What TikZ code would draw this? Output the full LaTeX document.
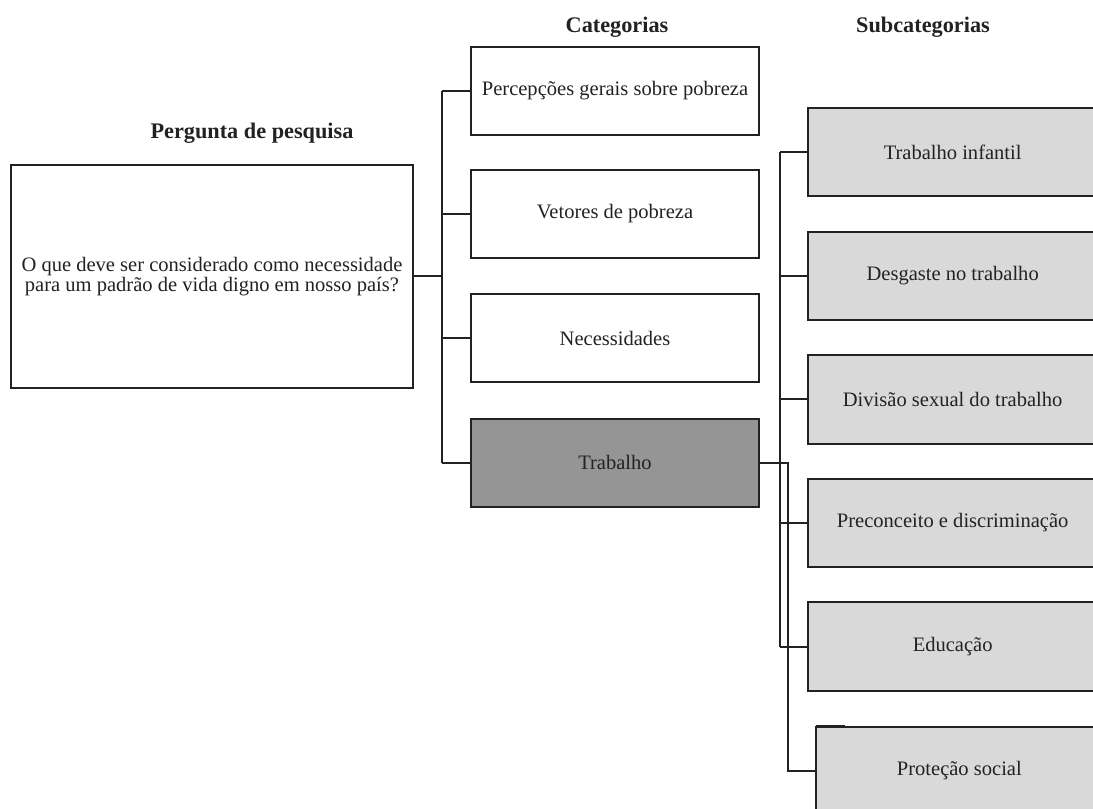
\documentclass[tikz,border=0pt]{standalone}
\usepackage{fontspec}
\setmainfont{Liberation Serif}
\definecolor{darkbox}{HTML}{959595}
\definecolor{lightbox}{HTML}{D9D9D9}
\definecolor{ink}{HTML}{222222}
\begin{document}
\begin{tikzpicture}[x=0.75pt,y=-0.75pt,
  line width=1.5pt,
  every node/.style={inner sep=0pt,outer sep=0pt},
  basebox/.style={draw=ink,text=ink,align=center,font=\fontsize{15.4}{15.5}\selectfont},
  catbox/.style={basebox,fill=white,minimum width=216pt,minimum height=66pt},
  trabbox/.style={catbox,fill=darkbox},
  subbox/.style={basebox,fill=lightbox,minimum width=240pt,minimum height=66.5pt},
  heading/.style={text=ink,font=\bfseries\fontsize{16.7}{17}\selectfont},
  link/.style={draw=ink,line width=1.5pt}]
\path[use as bounding box] (0,0) rectangle (1093,809);
\clip (0,0) rectangle (1093,809);
\fill[white] (0,0) rectangle (1093,809);

% headings
\node[heading] (hq) at (252,133) {Pergunta de pesquisa};
\node[heading] (hc) at (617,27) {Categorias};
\node[heading] (hs) at (923,27) {Subcategorias};

% question
\node[basebox,fill=white,minimum width=301.5pt,minimum height=167.25pt] (q) at (212,276.5)
  {O que deve ser considerado como necessidade\\para um padrão de vida digno em nosso país?};

% categories
\node[catbox] (c1) at (615,91) {Percepções gerais sobre pobreza};
\node[catbox] (c2) at (615,214) {Vetores de pobreza};
\node[catbox] (c3) at (615,338.5) {Necessidades};
\node[trabbox] (c4) at (615,462.5) {Trabalho};

% subcategories (they run past the right edge of the picture)
\node[subbox] (s1) at (968,152) {\hspace*{-23pt}Trabalho infantil};
\node[subbox] (s2) at (968,276) {\hspace*{-23pt}Desgaste no trabalho};
\node[subbox] (s3) at (968,399.5) {\hspace*{-23pt}Divisão sexual do trabalho};
\node[subbox] (s4) at (968,523) {\hspace*{-23pt}Preconceito e discriminação};
\node[subbox] (s5) at (968,646.5) {\hspace*{-23pt}Educação};
\node[subbox] (s6) at (976,771) {\hspace*{-25pt}Proteção social};

% trunk coordinates
\coordinate (ct) at (442,91);
\coordinate (cb) at (442,462.5);
\coordinate (st) at (780,152);
\coordinate (sb) at (780,646.5);
\coordinate (tr) at (788,462.5);
\coordinate (tb) at (788,771);
\coordinate (pa) at (816,725.5);
\coordinate (pb) at (845,725.5);

% question to categories
\draw[link] (ct) -- (cb);
\draw[link] (q.east) -- (q.east -| ct);
\foreach \c in {c1,c2,c3,c4}{\draw[link] (\c.west) -- (\c.west -| ct);}

% subcategory trunk
\draw[link] (st) -- (sb);
\foreach \s in {s1,s2,s3,s4,s5}{\draw[link] (\s.west) -- (\s.west -| st);}

% Trabalho to Protecao social
\draw[link] (c4.east) -- (tr) -- (tb) -- (s6.west);
\draw[link] (pa) -- (pb);
\end{tikzpicture}
\end{document}
